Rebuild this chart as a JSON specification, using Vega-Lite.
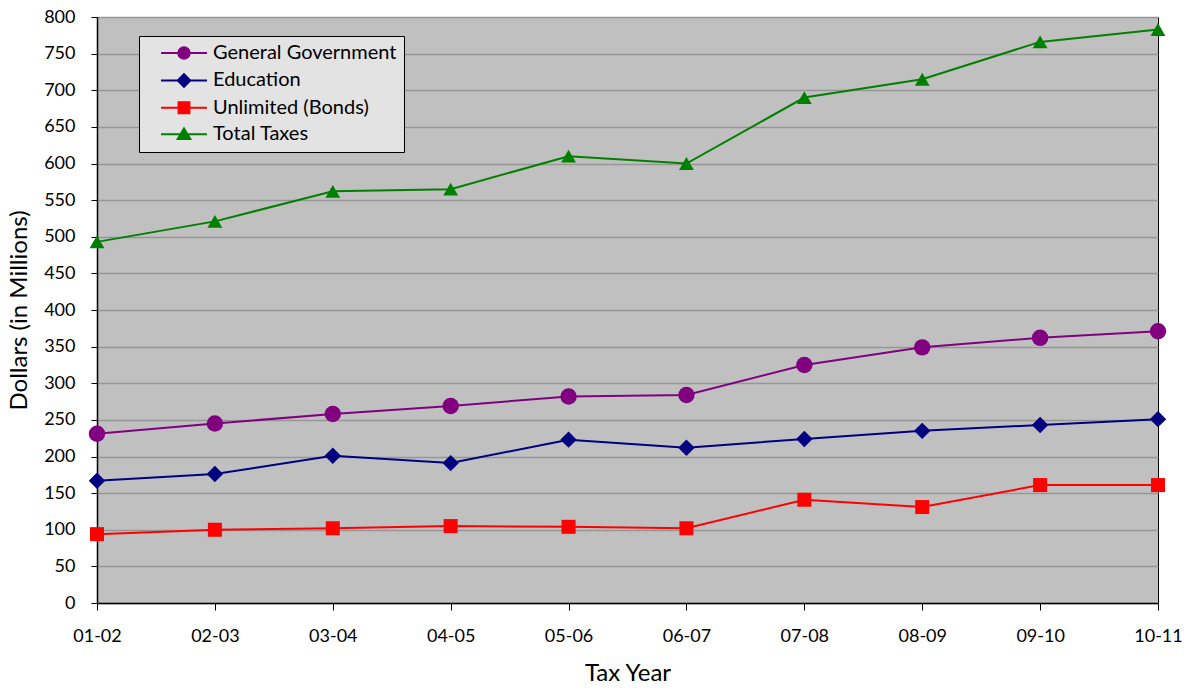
{
  "$schema": "https://vega.github.io/schema/vega-lite/v6.json",
  "width": 1061,
  "height": 586,
  "autosize": {"type": "none"},
  "padding": {"left": 97, "top": 17, "right": 35, "bottom": 88},
  "background": "white",
  "config": {
    "font": "Lato",
    "view": {"fill": "#C0C0C0", "stroke": "#000000", "strokeWidth": 1},
    "axis": {
      "labelFont": "Lato",
      "labelFontSize": 18,
      "labelColor": "#000000",
      "titleFont": "Lato",
      "titleFontSize": 24,
      "titleFontWeight": "normal",
      "titleColor": "#000000",
      "domainColor": "#000000",
      "domainWidth": 1.5,
      "tickColor": "#000000",
      "gridColor": "#969696",
      "gridWidth": 1.5
    },
    "legend": {
      "title": null,
      "orient": "none",
      "legendX": 42,
      "legendY": 19,
      "padding": 7,
      "fillColor": "#E3E3E3",
      "strokeColor": "#000000",
      "labelFont": "Lato",
      "labelFontSize": 20,
      "labelColor": "#000000",
      "labelLimit": 400,
      "symbolSize": 132,
      "symbolStrokeWidth": 2,
      "symbolOffset": 28,
      "labelOffset": 19,
      "rowPadding": 6.4
    }
  },
  "data": {
    "values": [
      {"year": "01-02", "series": "General Government", "value": 231},
      {"year": "02-03", "series": "General Government", "value": 245},
      {"year": "03-04", "series": "General Government", "value": 258},
      {"year": "04-05", "series": "General Government", "value": 269},
      {"year": "05-06", "series": "General Government", "value": 282},
      {"year": "06-07", "series": "General Government", "value": 284},
      {"year": "07-08", "series": "General Government", "value": 325},
      {"year": "08-09", "series": "General Government", "value": 349},
      {"year": "09-10", "series": "General Government", "value": 362},
      {"year": "10-11", "series": "General Government", "value": 371},
      {"year": "01-02", "series": "Education", "value": 167},
      {"year": "02-03", "series": "Education", "value": 176},
      {"year": "03-04", "series": "Education", "value": 201},
      {"year": "04-05", "series": "Education", "value": 191},
      {"year": "05-06", "series": "Education", "value": 223},
      {"year": "06-07", "series": "Education", "value": 212},
      {"year": "07-08", "series": "Education", "value": 224},
      {"year": "08-09", "series": "Education", "value": 235},
      {"year": "09-10", "series": "Education", "value": 243},
      {"year": "10-11", "series": "Education", "value": 251},
      {"year": "01-02", "series": "Unlimited (Bonds)", "value": 94},
      {"year": "02-03", "series": "Unlimited (Bonds)", "value": 100},
      {"year": "03-04", "series": "Unlimited (Bonds)", "value": 102},
      {"year": "04-05", "series": "Unlimited (Bonds)", "value": 105},
      {"year": "05-06", "series": "Unlimited (Bonds)", "value": 104},
      {"year": "06-07", "series": "Unlimited (Bonds)", "value": 102},
      {"year": "07-08", "series": "Unlimited (Bonds)", "value": 141},
      {"year": "08-09", "series": "Unlimited (Bonds)", "value": 131},
      {"year": "09-10", "series": "Unlimited (Bonds)", "value": 161},
      {"year": "10-11", "series": "Unlimited (Bonds)", "value": 161},
      {"year": "01-02", "series": "Total Taxes", "value": 493},
      {"year": "02-03", "series": "Total Taxes", "value": 521},
      {"year": "03-04", "series": "Total Taxes", "value": 562},
      {"year": "04-05", "series": "Total Taxes", "value": 565},
      {"year": "05-06", "series": "Total Taxes", "value": 610},
      {"year": "06-07", "series": "Total Taxes", "value": 600},
      {"year": "07-08", "series": "Total Taxes", "value": 690},
      {"year": "08-09", "series": "Total Taxes", "value": 715},
      {"year": "09-10", "series": "Total Taxes", "value": 766},
      {"year": "10-11", "series": "Total Taxes", "value": 783}
    ]
  },
  "encoding": {
    "x": {
      "field": "year",
      "type": "ordinal",
      "scale": {"type": "point", "padding": 0},
      "axis": {
        "title": "Tax Year",
        "labelAngle": 0,
        "tickSize": 7,
        "labelPadding": 17,
        "titlePadding": 16,
        "grid": false
      }
    },
    "y": {
      "field": "value",
      "type": "quantitative",
      "scale": {"domain": [0, 800], "nice": false},
      "axis": {
        "title": "Dollars (in Millions)",
        "values": [0, 50, 100, 150, 200, 250, 300, 350, 400, 450, 500, 550, 600, 650, 700, 750, 800],
        "tickSize": 6,
        "labelPadding": 16,
        "titlePadding": 12,
        "grid": true
      }
    },
    "color": {
      "field": "series",
      "type": "nominal",
      "scale": {
        "domain": ["General Government", "Education", "Unlimited (Bonds)", "Total Taxes"],
        "range": ["#800080", "#000080", "#FF0000", "#008000"]
      },
      "legend": {
        "encode": {
          "symbols": {
            "update": {
              "shape": {"signal": "datum.value === 'General Government' ? 'M-1,0 C-1,-0.5523 -0.5523,-1 0,-1 C0.5523,-1 1,-0.5523 1,0 C1,0.5523 0.5523,1 0,1 C-0.5523,1 -1,0.5523 -1,0 Z M-4,0 L4,0' : datum.value === 'Education' ? 'M-1.1,0 L0,-1.1 L1.1,0 L0,1.1 Z M-4,0 L4,0' : datum.value === 'Unlimited (Bonds)' ? 'M-0.95,-0.95 L0.95,-0.95 L0.95,0.95 L-0.95,0.95 Z M-4,0 L4,0' : 'M0,-1 L1.1,0.85 L-1.1,0.85 Z M-4,0 L4,0'"},
              "fill": {"scale": "color", "field": "value"},
              "stroke": {"scale": "color", "field": "value"},
              "strokeWidth": {"value": 2},
              "size": {"value": 132},
              "opacity": {"value": 1}
            }
          }
        }
      }
    }
  },
  "layer": [
    {
      "mark": {"type": "line", "strokeWidth": 2}
    },
    {
      "transform": [{"filter": "datum.series === 'General Government'"}],
      "mark": {"type": "point", "shape": "circle", "size": 270, "filled": true, "opacity": 1}
    },
    {
      "transform": [{"filter": "datum.series === 'Education'"}],
      "mark": {"type": "point", "shape": "diamond", "size": 270, "filled": true, "opacity": 1}
    },
    {
      "transform": [{"filter": "datum.series === 'Unlimited (Bonds)'"}],
      "mark": {"type": "point", "shape": "square", "size": 196, "filled": true, "opacity": 1}
    },
    {
      "transform": [{"filter": "datum.series === 'Total Taxes'"}],
      "mark": {"type": "point", "shape": "triangle-up", "size": 220, "filled": true, "opacity": 1}
    }
  ]
}
